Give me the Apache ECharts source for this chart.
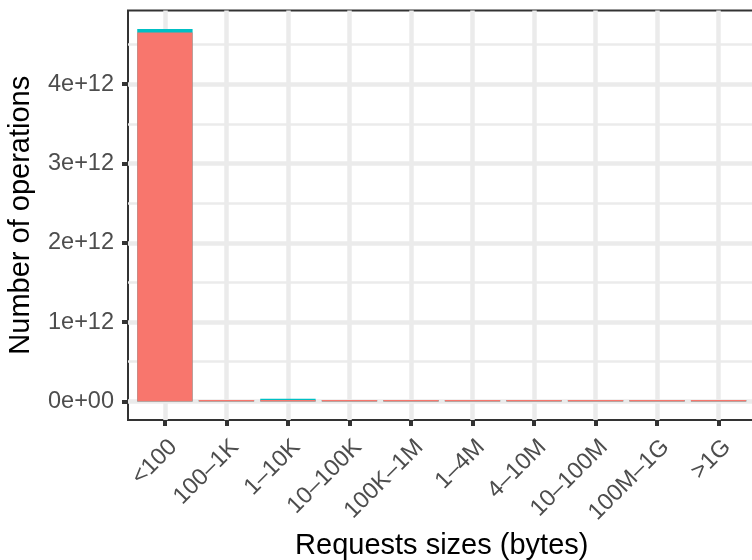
<!DOCTYPE html>
<html>
<head>
<meta charset="utf-8">
<script src="https://cdn.jsdelivr.net/npm/echarts@6/dist/echarts.min.js"></script>
<style>
html,body{margin:0;padding:0;background:#fff;}
#chart{width:752px;height:560px;}
</style>
</head>
<body>
<div id="chart"></div>
<script>
// ---- data ----
var categories = ['<100', '100–1K', '1–10K', '10–100K', '100K–1M', '1–4M', '4–10M', '10–100M', '100M–1G', '>1G'];
var seriesRedName = 'Type A';
var seriesCyanName = 'Type B';
var redValues  = [4.652e12, 1.6e10, 1.6e10, 1.6e10, 1.6e10, 1.6e10, 1.6e10, 1.6e10, 1.6e10, 1.6e10];
var cyanValues = [4.2e10, 0, 1.8e10, 0, 0, 0, 0, 0, 0, 0];
var yTickValues = [0, 1e12, 2e12, 3e12, 4e12];
var yTickLabels = ['0e+00', '1e+12', '2e+12', '3e+12', '4e+12'];
var yMinorValues = [0.5e12, 1.5e12, 2.5e12, 3.5e12, 4.5e12];

// ---- build ----
var xPos = categories.map(function (c, i) { return i + 1; });
var totals = redValues.map(function (v, i) { return v + cyanValues[i]; });
var maxTotal = Math.max.apply(null, totals);
var yMin = -0.05 * maxTotal, yMax = 1.05 * maxTotal;

var tickFont = { fontFamily: 'Liberation Sans', fontSize: 23.5, color: '#4D4D4D' };

var chart = echarts.init(document.getElementById('chart'), null, { renderer: 'canvas' });
chart.setOption({
  animation: false,
  backgroundColor: '#ffffff',
  grid: {
    left: 128, top: 10.5, width: 627.5, height: 409.5,
    show: true, backgroundColor: '#ffffff', borderColor: '#333333', borderWidth: 2,
    containLabel: false, outerBoundsMode: 'none'
  },
  xAxis: {
    type: 'value', min: 0.4, max: categories.length + 0.6, position: 'bottom',
    axisLine: { show: false, onZero: false },
    axisTick: { show: true, customValues: xPos, length: 6, lineStyle: { color: '#333333', width: 4 } },
    axisLabel: {
      customValues: xPos, rotate: 45, margin: 15, verticalAlign: 'top', align: 'right',
      fontFamily: tickFont.fontFamily, fontSize: tickFont.fontSize, color: tickFont.color,
      formatter: function (v) { return categories[Math.round(v) - 1]; }
    },
    splitLine: { show: true, lineStyle: { color: '#EBEBEB', width: 4.5 } },
    name: 'Requests sizes (bytes)', nameLocation: 'middle', nameGap: 111, nameMoveOverlap: false,
    nameTextStyle: { fontFamily: 'Liberation Sans', fontSize: 29, color: '#000000' }
  },
  yAxis: [{
    type: 'value', min: yMin, max: yMax, position: 'left',
    axisLine: { show: false, onZero: false },
    axisTick: { show: true, customValues: yTickValues, length: 6, lineStyle: { color: '#333333', width: 4 } },
    axisLabel: {
      customValues: yTickValues, margin: 14,
      fontFamily: tickFont.fontFamily, fontSize: tickFont.fontSize, color: tickFont.color,
      formatter: function (v) { var i = yTickValues.indexOf(v); return i >= 0 ? yTickLabels[i] : ''; }
    },
    splitLine: { show: true, lineStyle: { color: '#EBEBEB', width: 4.5 } },
    name: 'Number of operations', nameLocation: 'middle', nameGap: 93, nameRotate: 90, nameMoveOverlap: false,
    nameTextStyle: { fontFamily: 'Liberation Sans', fontSize: 29, color: '#000000' }
  }, {
    type: 'value', min: yMin, max: yMax, position: 'left',
    axisLine: { show: false, onZero: false },
    axisTick: { show: false, customValues: yMinorValues },
    axisLabel: { show: false },
    splitLine: { show: true, lineStyle: { color: '#EBEBEB', width: 2.5 } }
  }],
  series: [{
    name: seriesCyanName, type: 'bar', xAxisIndex: 0, yAxisIndex: 0,
    barWidth: '90%', barGap: '-100%',
    itemStyle: { color: '#00BFC4' },
    data: xPos.map(function (x, i) { return [x, totals[i]]; })
  }, {
    name: seriesRedName, type: 'bar', xAxisIndex: 0, yAxisIndex: 0,
    barWidth: '90%', barGap: '-100%',
    itemStyle: { color: '#F8766D' },
    data: xPos.map(function (x, i) { return [x, redValues[i]]; })
  }]
});
</script>
</body>
</html>
